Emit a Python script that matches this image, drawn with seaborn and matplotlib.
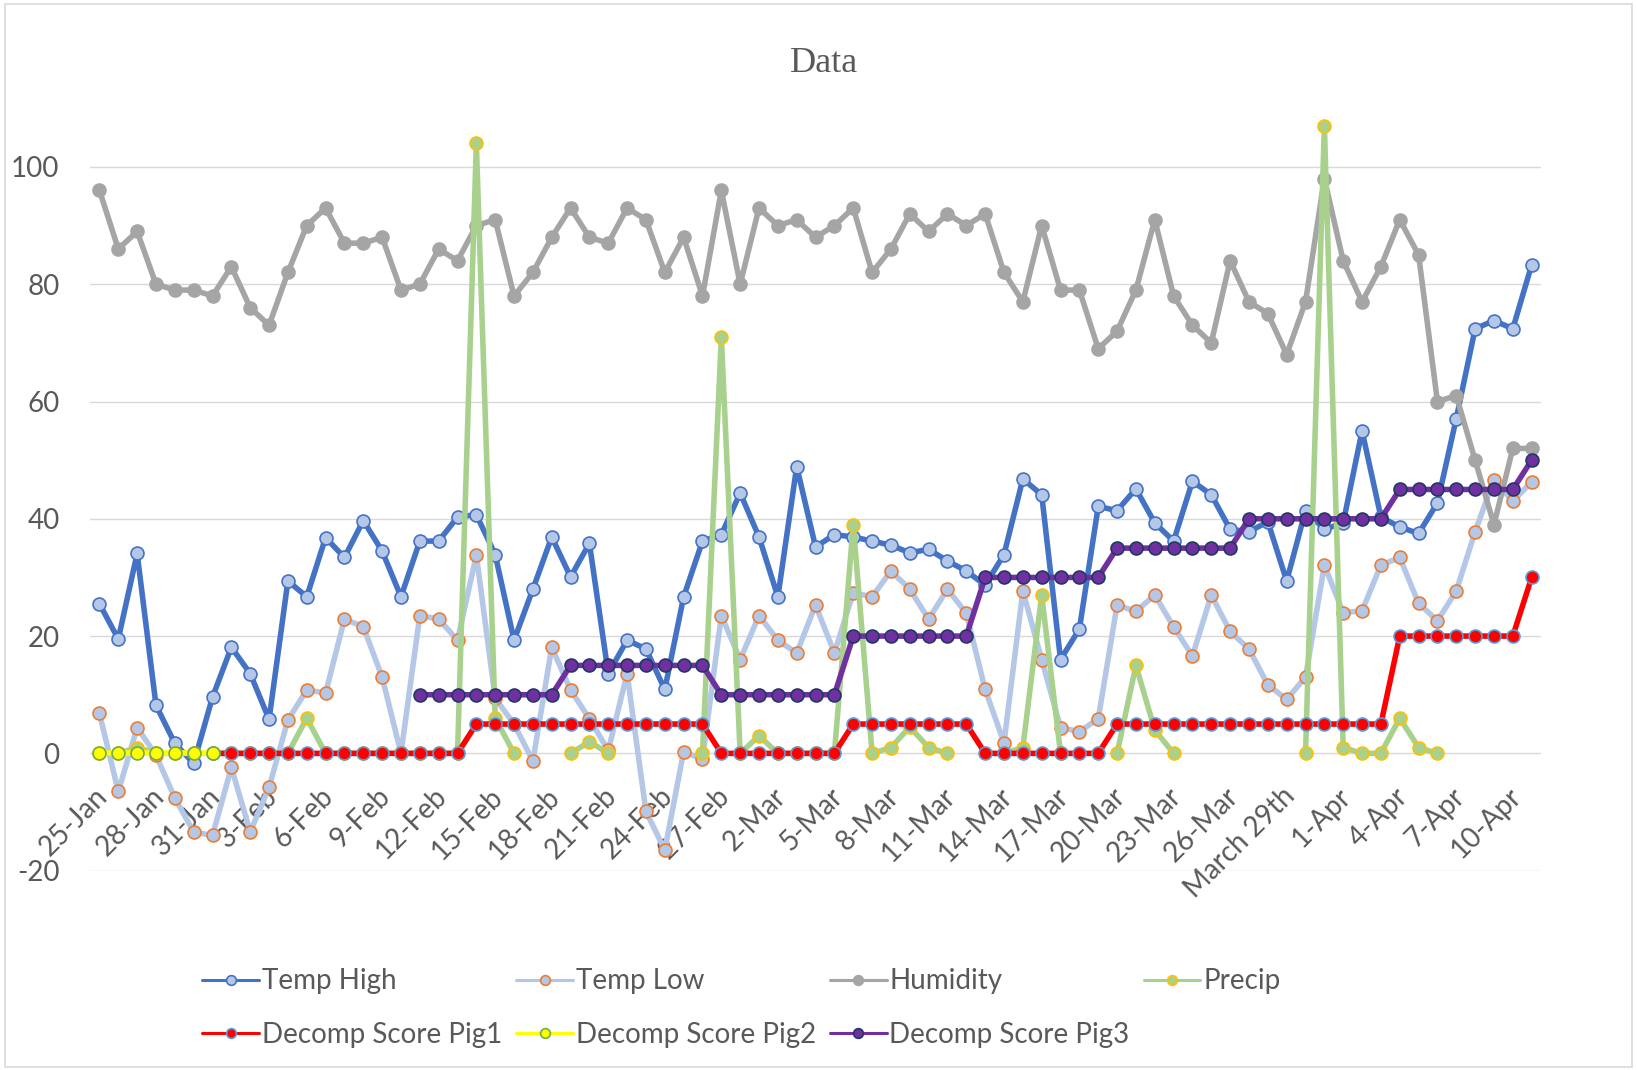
import numpy as np
import pandas as pd
import seaborn as sns
import matplotlib.pyplot as plt
from matplotlib.lines import Line2D
from matplotlib.patches import Rectangle
from matplotlib.transforms import ScaledTranslation

nan = np.nan

# one value per day, 25-Jan .. 11-Apr (77 days)
tick_labels = ["25-Jan", "28-Jan", "31-Jan", "3-Feb", "6-Feb", "9-Feb", "12-Feb",
               "15-Feb", "18-Feb", "21-Feb", "24-Feb", "27-Feb", "2-Mar", "5-Mar",
               "8-Mar", "11-Mar", "14-Mar", "17-Mar", "20-Mar", "23-Mar", "26-Mar",
               "March 29th", "1-Apr", "4-Apr", "7-Apr", "10-Apr"]

temp_high = [25.5, 19.5, 34.1, 8.2, 1.7, -1.7, 9.6, 18.1, 13.6, 5.8,
             29.4, 26.7, 36.8, 33.4, 39.7, 34.5, 26.7, 36.2, 36.2, 40.3,
             40.7, 33.9, 19.3, 28.0, 36.9, 30.1, 35.8, 13.6, 19.3, 17.8,
             10.9, 26.7, 36.2, 37.3, 44.4, 36.9, 26.7, 48.9, 35.2, 37.3,
             36.9, 36.2, 35.5, 34.2, 34.8, 32.8, 31.1, 28.7, 33.9, 46.8,
             44.1, 16.0, 21.2, 42.1, 41.4, 45.1, 39.3, 36.2, 46.4, 44.1,
             38.2, 37.8, 39.5, 29.4, 41.4, 38.2, 39.3, 55.0, 40.3, 38.6,
             37.5, 42.7, 57.1, 72.4, 73.8, 72.4, 83.3]

temp_low = [6.8, -6.5, 4.4, -0.3, -7.6, -13.4, -14.0, -2.4, -13.4, -5.8,
            5.7, 10.8, 10.3, 22.9, 21.6, 13.0, 0.0, 23.5, 22.9, 19.3,
            33.8, 9.4, 5.0, -1.3, 18.1, 10.8, 5.9, 0.5, 13.6, -9.9,
            -16.5, 0.3, -1.0, 23.5, 16.0, 23.5, 19.3, 17.1, 25.3, 17.1,
            27.4, 26.7, 31.1, 28.0, 22.9, 28.0, 23.9, 10.9, 1.8, 27.7,
            16.0, 4.4, 3.7, 5.9, 25.3, 24.2, 27.0, 21.6, 16.6, 27.0,
            20.8, 17.8, 11.7, 9.2, 13.0, 32.1, 24.0, 24.3, 32.1, 33.4,
            25.6, 22.6, 27.7, 37.8, 46.7, 43.0, 46.3]

humidity = [96, 86, 89, 80, 79, 79, 78, 83, 76, 73,
            82, 90, 93, 87, 87, 88, 79, 80, 86, 84,
            90, 91, 78, 82, 88, 93, 88, 87, 93, 91,
            82, 88, 78, 96, 80, 93, 90, 91, 88, 90,
            93, 82, 86, 92, 89, 92, 90, 92, 82, 77,
            90, 79, 79, 69, 72, 79, 91, 78, 73, 70,
            84, 77, 75, 68, 77, 98, 84, 77, 83, 91,
            85, 60, 61, 50, 39, 52, 52]

precip = [0, 0, 1, 0, 0, 0, 0, 0, 0, 0,
          0, 6, 0, 0, 0, 0, 0, 0, 0, 0,
          104, 6, 0, nan, nan, 0, 2, 0, nan, nan,
          nan, nan, 0, 71, 0, 3, 0, 0, 0, 0,
          39, 0, 1, 4.5, 1, 0, nan, nan, 0, 1,
          27, 0, nan, nan, 0, 15, 4, 0, nan, nan,
          nan, nan, nan, nan, 0, 107, 1, 0, 0, 6,
          1, 0, nan, nan, nan, nan, nan]

# decomp scores start later in the record
pig1_start = 6
pig1 = [0, 0, 0, 0, 0, 0, 0, 0, 0, 0, 0, 0, 0, 0,
        5, 5, 5, 5, 5, 5, 5, 5, 5, 5, 5, 5, 5,
        0, 0, 0, 0, 0, 0, 0,
        5, 5, 5, 5, 5, 5, 5,
        0, 0, 0, 0, 0, 0, 0,
        5, 5, 5, 5, 5, 5, 5, 5, 5, 5, 5, 5, 5, 5, 5,
        20, 20, 20, 20, 20, 20, 20,
        30]

pig2_start = 0
pig2 = [0, 0, 0, 0, 0, 0, 0]

pig3_start = 17
pig3 = [10, 10, 10, 10, 10, 10, 10, 10,
        15, 15, 15, 15, 15, 15, 15, 15,
        10, 10, 10, 10, 10, 10, 10,
        20, 20, 20, 20, 20, 20, 20,
        30, 30, 30, 30, 30, 30, 30,
        35, 35, 35, 35, 35, 35, 35,
        40, 40, 40, 40, 40, 40, 40, 40,
        45, 45, 45, 45, 45, 45, 45,
        50]

GREY_TEXT = "#595959"
FONT = ["Lato", "DejaVu Sans"]

series = [
    # label, values, start, line colour, marker face, marker edge
    ("Temp High", temp_high, 0, "#4472C4", "#B4C7E7", "#4472C4"),
    ("Temp Low", temp_low, 0, "#B4C7E7", "#B4C7E7", "#ED7D31"),
    ("Humidity", humidity, 0, "#A5A5A5", "#A5A5A5", "#A5A5A5"),
    ("Precip", precip, 0, "#A9D18E", "#A9D18E", "#FFC000"),
    ("Decomp Score Pig1", pig1, pig1_start, "#FF0000", "#FF0000", "#5B9BD5"),
    ("Decomp Score Pig2", pig2, pig2_start, "#FFFF00", "#FFFF00", "#70AD47"),
    ("Decomp Score Pig3", pig3, pig3_start, "#7030A0", "#7030A0", "#203864"),
]

LW = 4.0
MS = 9.3
MEW = 1.2


def _Segments(values, start):
    # split a series at its gaps so that each run is drawn as its own line
    df = pd.DataFrame({"day": np.arange(start, start + len(values)), "value": values})
    df["seg"] = df["value"].isna().cumsum()
    return df.dropna()


sns.set_style("white")
plt.rcParams["font.family"] = FONT
plt.rcParams["axes.unicode_minus"] = False

fig = plt.figure(figsize=(16.37, 10.70), dpi=100)
ax = fig.add_axes([0.055, 0.1863, 0.8864, 0.7125])

handles = {}
for label, values, start, line_c, face_c, edge_c in series:
    sns.lineplot(
        data=_Segments(values, start), x="day", y="value", units="seg",
        estimator=None, sort=False, ax=ax, legend=False,
        color=line_c, linewidth=LW, marker="o", markersize=MS,
        markerfacecolor=face_c, markeredgecolor=edge_c, markeredgewidth=MEW,
        solid_joinstyle="round", solid_capstyle="round",
    )
    handles[label] = Line2D([], [], color=line_c, lw=2.2, marker="o", markersize=7,
                            markerfacecolor=face_c, markeredgecolor=edge_c,
                            markeredgewidth=MEW, solid_capstyle="round")

ax.set_xlim(-0.5, 76.5)
ax.set_ylim(-20, 110)
ax.set_yticks(range(-20, 101, 20))
ax.set_xticks(np.arange(0, 77, 3), tick_labels)
ax.set_xlabel("")
ax.set_ylabel("")
for s in ax.spines.values():
    s.set_visible(False)
ax.spines["bottom"].set_position(("data", 0))
ax.yaxis.grid(True, color="#D9D9D9", lw=1.0)
ax.xaxis.grid(False)
ax.set_axisbelow(True)
ax.tick_params(axis="y", length=0, pad=22, labelsize=20, labelcolor=GREY_TEXT)
ax.tick_params(axis="x", length=0, pad=28, labelsize=20, labelcolor=GREY_TEXT)
shift = ScaledTranslation(4 / 100, 0, fig.dpi_scale_trans)
for lab in ax.get_xticklabels():
    lab.set_rotation(45)
    lab.set_ha("right")
    lab.set_va("center")
    lab.set_rotation_mode("anchor")
    lab.set_transform(lab.get_transform() + shift)

fig.text(0.5035, 0.9405, "Data", family="Liberation Serif", size=26,
         color=GREY_TEXT, ha="center", va="center")

order = ["Temp High", "Decomp Score Pig1", "Temp Low", "Decomp Score Pig2",
         "Humidity", "Decomp Score Pig3", "Precip"]
leg = fig.legend([handles[k] for k in order], order, ncol=4, loc="upper left",
                 bbox_to_anchor=(0.1235, 0.095), frameon=False, fontsize=20,
                 handlelength=2.05, handletextpad=0.1, columnspacing=0.5,
                 labelspacing=1.0, borderpad=0, borderaxespad=0)
for t in leg.get_texts():
    t.set_color(GREY_TEXT)

fig.patches.append(Rectangle((0.003, 0.003), 0.994, 0.993, transform=fig.transFigure,
                             fill=False, edgecolor="#D9D9D9", lw=1.2))

plt.savefig("out.png", dpi=100)
